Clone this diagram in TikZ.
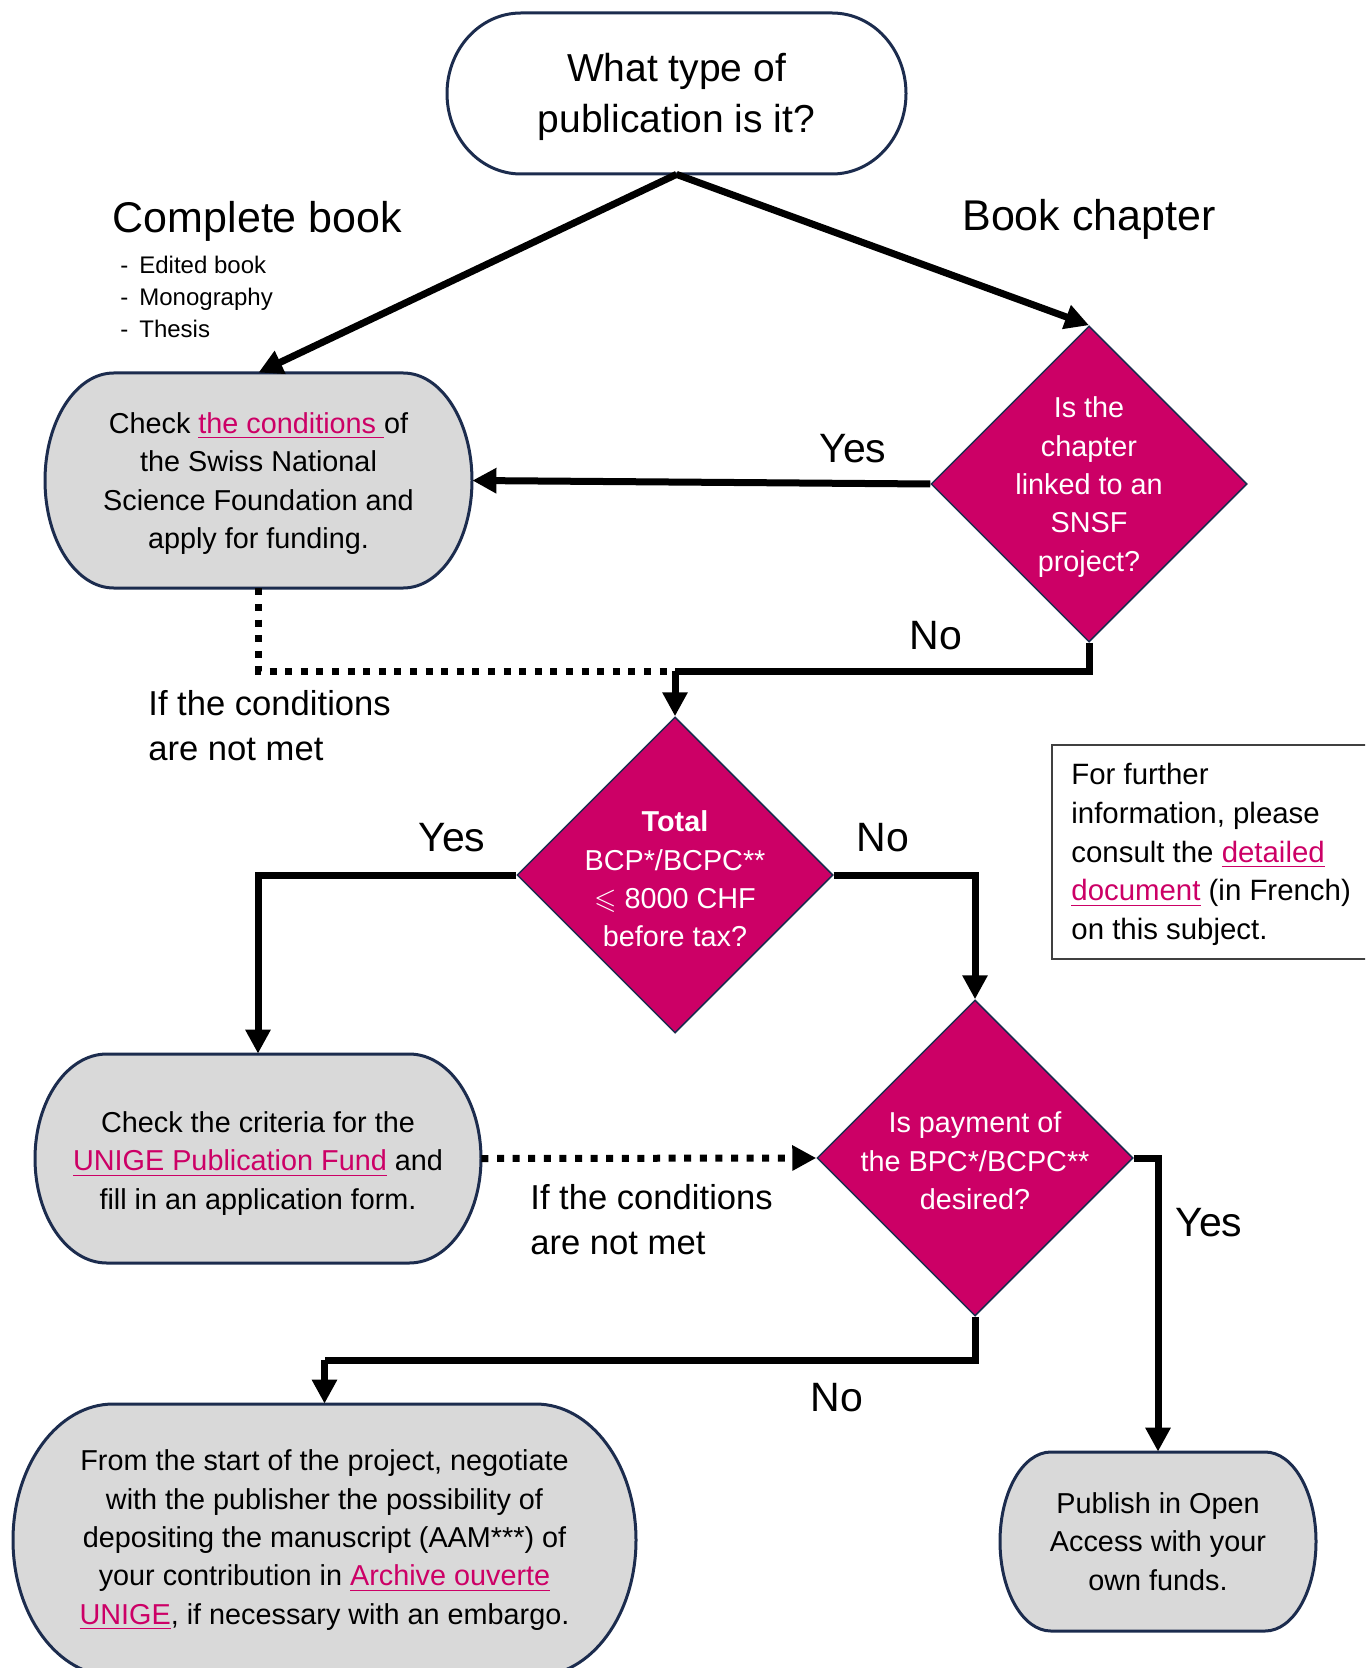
\documentclass[tikz,border=0pt]{standalone}
\usepackage{fontspec}
\setmainfont{Liberation Sans}
\usepackage{amssymb}
\usetikzlibrary{arrows.meta,shapes.geometric}
\definecolor{mag}{RGB}{204,0,102}
\definecolor{navy}{RGB}{28,44,78}
\definecolor{boxgray}{RGB}{217,217,217}
\definecolor{infoframe}{RGB}{64,64,64}
\newcommand\lnk[1]{\textcolor{mag}{\underline{#1}}}
\newcommand\termshape[5]{%
 \pgfmathsetmacro\zzL{#1-#3}\pgfmathsetmacro\zzR{#1+#3}%
 \pgfmathsetmacro\zzT{#2-#4}\pgfmathsetmacro\zzB{#2+#4}%
 \pgfmathsetmacro\zzr{0.322*#3}%
 \pgfmathsetmacro\zzA{\zzL+\zzr}\pgfmathsetmacro\zzC{\zzR-\zzr}%
 \pgfmathsetmacro\zzAk{\zzA-0.5523*\zzr}\pgfmathsetmacro\zzCk{\zzC+0.5523*\zzr}%
 \pgfmathsetmacro\zzU{#2-0.5523*#4}\pgfmathsetmacro\zzD{#2+0.5523*#4}%
 \draw[termline, fill=#5] (\zzA,\zzT) -- (\zzC,\zzT) .. controls (\zzCk,\zzT) and (\zzR,\zzU) .. (\zzR,#2)
   .. controls (\zzR,\zzD) and (\zzCk,\zzB) .. (\zzC,\zzB) -- (\zzA,\zzB)
   .. controls (\zzAk,\zzB) and (\zzL,\zzD) .. (\zzL,#2)
   .. controls (\zzL,\zzU) and (\zzAk,\zzT) .. (\zzA,\zzT) -- cycle;}
\tikzset{
 termline/.style={draw=navy,line width=1.5pt},
 termnode/.style={inner sep=0pt},
 termtext/.style={inner sep=0pt, align=center, font=\fontsize{14.4}{19.2}\selectfont},
 dia/.style={diamond, aspect=1, draw=navy, line width=0.75pt, fill=mag, minimum width=158pt, minimum height=158pt, inner sep=0pt},
 diatext/.style={text=white, align=center, font=\fontsize{14.4}{19.2}\selectfont, inner sep=0pt},
 tipstyle/.style={-{Triangle[length=12pt,width=12pt]}},
 conn/.style={line width=3.5pt, tipstyle},
 plainline/.style={line width=3.5pt},
 dotline/.style={line width=3.5pt, dash pattern=on 3.5pt off 4.3pt},
 lbl/.style={font=\fontsize{20.5}{24}\selectfont, inner sep=0pt},
 cond/.style={font=\fontsize{17.3}{22.4}\selectfont, align=left, inner sep=0pt},
}
\begin{document}
\begin{tikzpicture}[x=0.5pt,y=-0.5pt]
\useasboundingbox (0,0) rectangle (1365,1668);
\clip (0,0) rectangle (1365,1668);

% terminator shapes
\termshape{676.5}{93.5}{229.5}{80.5}{white}
\termshape{258.5}{480.5}{213.5}{107.5}{boxgray}
\termshape{258}{1158.5}{223}{104.5}{boxgray}
\termshape{324.5}{1540}{311.5}{136}{boxgray}
\termshape{1158}{1541.5}{158}{89.5}{boxgray}

\node[termnode, minimum width=229.5pt, minimum height=80.5pt] (top) at (676.5,93.5) {};
\node[termtext, font=\fontsize{19.5}{25.5}\selectfont] (topt) at (676.5,96.5) {What type of\\publication is it?};
\node[termnode, minimum width=213.5pt, minimum height=107.5pt] (b1) at (258.5,480.5) {};
\node[termtext] (b1t) at (258.5,483.5) {Check \lnk{the conditions\ }of\\the Swiss National\\Science Foundation and\\apply for funding.};
\node[termnode, minimum width=223pt, minimum height=104.5pt] (b2) at (258,1158.5) {};
\node[termtext] (b2t) at (258,1163.5) {Check the criteria for the\\\lnk{UNIGE Publication Fund} and\\fill in an application form.};
\node[termnode, minimum width=311.5pt, minimum height=136pt] (b3) at (324.5,1540) {};
\node[termtext] (b3t) at (324.5,1540) {From the start of the project, negotiate\\with the publisher the possibility of\\depositing the manuscript (AAM***) of\\your contribution in \lnk{Archive ouverte}\\\lnk{UNIGE}, if necessary with an embargo.};
\node[termnode, minimum width=158pt, minimum height=89.5pt] (b4) at (1158,1541.5) {};
\node[termtext] (b4t) at (1158,1541.5) {Publish in Open\\Access with your\\own funds.};

% diamonds
\node[dia] (d1) at (1089,484) {};
\node[diatext] (d1t) at (1089,487) {Is the\\chapter\\linked to an\\SNSF\\project?};
\node[dia] (d2) at (675,875) {};
\node[diatext] (d2t) at (675,879) {\textbf{Total}\\BCP*/BCPC**\\$\leqslant$ 8000 CHF\\before tax?};
\node[dia] (d3) at (975,1158) {};
\node[diatext] (d3t) at (975,1161) {Is payment of\\the BPC*/BCPC**\\desired?};

% info box
\node[draw=infoframe, line width=0.75pt, anchor=west, minimum width=170pt, minimum height=107pt, inner sep=0pt] (info) at (1051,852) {};
\node[anchor=west, inner sep=0pt, align=left, font=\fontsize{14.7}{19.4}\selectfont] (infot) at (1071,854.5)
 {For further\\information, please\\consult the \lnk{detailed}\\\lnk{document} (in French)\\on this subject.};

% headings and labels
\node[font=\fontsize{21.5}{26}\selectfont, inner sep=0pt] (cb) at (257.5,221) {Complete book};
\node[font=\fontsize{12}{16}\selectfont, inner sep=0pt, align=left, anchor=west] (list) at (120,297) {\makebox[9.5pt][l]{-}Edited book\\\makebox[9.5pt][l]{-}Monography\\\makebox[9.5pt][l]{-}Thesis};
\node[font=\fontsize{21.5}{26}\selectfont, inner sep=0pt] (bc) at (1089,219) {Book chapter};

\node[lbl] (yes1) at (853,449) {Yes};
\node[lbl] (no1) at (936,636) {No};
\node[lbl] (yes2) at (452,838) {Yes};
\node[lbl] (no2) at (883,838) {No};
\node[lbl] (yes3) at (1209,1223) {Yes};
\node[lbl] (no3) at (837,1398) {No};
\node[cond, anchor=west] (c1) at (148,725.5) {If the conditions\\are not met};
\node[cond, anchor=west] (c2) at (530,1219.5) {If the conditions\\are not met};

% junction coordinates
\coordinate (j1) at (675,671);
\coordinate (j2) at (324.5,1360);

% connectors
\draw[conn] (top.south) -- (b1.north);
\draw[conn] (top.south) -- (d1.north);
\draw[conn] (d1.west) -- (b1.east);
\draw[plainline] (d1.south) |- (j1);
\draw[conn] (j1) -- (d2.north);
\draw[dotline] (b1.south) |- (j1);
\draw[conn] (d2.west) -| (b2.north);
\draw[conn] (d2.east) -| (d3.north);
\draw[dotline, tipstyle] (b2.east) -- (d3.west);
\draw[conn] (d3.east) -| (b4.north);
\draw[plainline] (d3.south) |- (j2);
\draw[conn] (j2) -- (b3.north);
\end{tikzpicture}
\end{document}
